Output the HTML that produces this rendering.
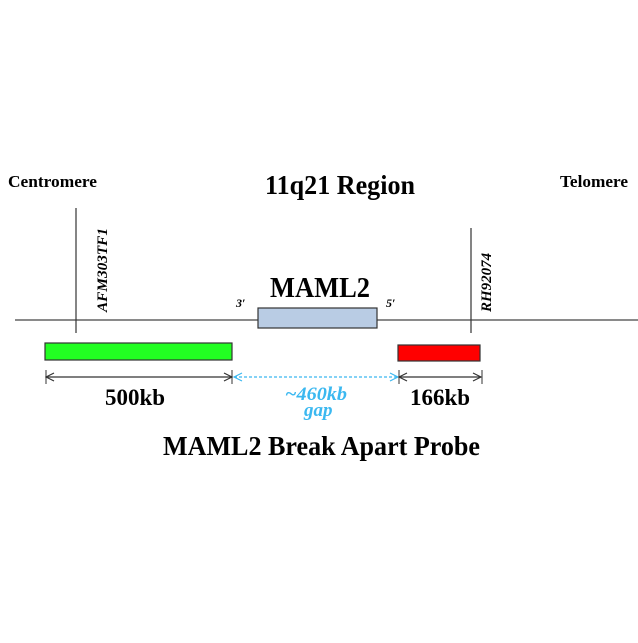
<!DOCTYPE html>
<html><head><style>body{margin:0;background:#fff}</style></head><body>
<svg width="638" height="638" viewBox="0 0 638 638" xmlns="http://www.w3.org/2000/svg" font-family="Liberation Serif, serif" font-weight="bold">
<defs>
<marker id="a" markerWidth="10" markerHeight="10" refX="9" refY="5" orient="auto-start-reverse" markerUnits="userSpaceOnUse"><path d="M1,1 L9,5 L1,9" fill="none" stroke="#333" stroke-width="1.2"/></marker>
<marker id="b" markerWidth="10" markerHeight="10" refX="9" refY="5" orient="auto-start-reverse" markerUnits="userSpaceOnUse"><path d="M1,1 L9,5 L1,9" fill="none" stroke="#3bb8f0" stroke-width="1.2"/></marker>
</defs>
<text x="8" y="187" font-size="17" textLength="89" lengthAdjust="spacingAndGlyphs">Centromere</text>
<text x="560" y="187" font-size="17" textLength="68" lengthAdjust="spacingAndGlyphs">Telomere</text>
<text x="265" y="194" font-size="27" textLength="150" lengthAdjust="spacingAndGlyphs">11q21 Region</text>
<line x1="15" y1="320" x2="638" y2="320" stroke="#444" stroke-width="1.2"/>
<line x1="76" y1="208" x2="76" y2="333" stroke="#333" stroke-width="1.2"/>
<line x1="471" y1="228" x2="471" y2="333" stroke="#333" stroke-width="1.2"/>
<text transform="translate(107,312) rotate(-90)" font-size="15" font-style="italic" textLength="84" lengthAdjust="spacingAndGlyphs">AFM303TF1</text>
<text transform="translate(491,312) rotate(-90)" font-size="15" font-style="italic">RH92074</text>
<text x="270" y="297" font-size="28" textLength="100" lengthAdjust="spacingAndGlyphs">MAML2</text>
<text x="236" y="307" font-size="12" font-style="italic">3′</text>
<text x="386" y="307" font-size="12" font-style="italic">5′</text>
<rect x="258" y="308" width="119" height="20" fill="#b9cce4" stroke="#333" stroke-width="1.2"/>
<rect x="45" y="343" width="187" height="17" fill="#22ff22" stroke="#333" stroke-width="1.2"/>
<rect x="398" y="345" width="82" height="16" fill="#ff0000" stroke="#333" stroke-width="1.2"/>
<line x1="46" y1="377" x2="232" y2="377" stroke="#333" stroke-width="1.2" marker-start="url(#a)" marker-end="url(#a)"/>
<line x1="46" y1="370" x2="46" y2="384" stroke="#333"/>
<line x1="232" y1="370" x2="232" y2="384" stroke="#333"/>
<line x1="234" y1="377" x2="398" y2="377" stroke="#3bb8f0" stroke-width="1.2" stroke-dasharray="3,2" marker-start="url(#b)" marker-end="url(#b)"/>
<line x1="399" y1="377" x2="481" y2="377" stroke="#333" stroke-width="1.2" marker-start="url(#a)" marker-end="url(#a)"/>
<line x1="399" y1="370" x2="399" y2="384" stroke="#333"/>
<line x1="482" y1="370" x2="482" y2="384" stroke="#333"/>
<text x="105" y="405" font-size="23" textLength="60" lengthAdjust="spacingAndGlyphs">500kb</text>
<text x="410" y="405" font-size="23" textLength="60" lengthAdjust="spacingAndGlyphs">166kb</text>
<text x="285" y="400" font-size="19" font-style="italic" fill="#3bb8f0" textLength="62" lengthAdjust="spacingAndGlyphs">~460kb</text>
<text x="304" y="416" font-size="19" font-style="italic" fill="#3bb8f0">gap</text>
<text x="163" y="455" font-size="27" textLength="317" lengthAdjust="spacingAndGlyphs">MAML2 Break Apart Probe</text>
</svg>
</body></html>
